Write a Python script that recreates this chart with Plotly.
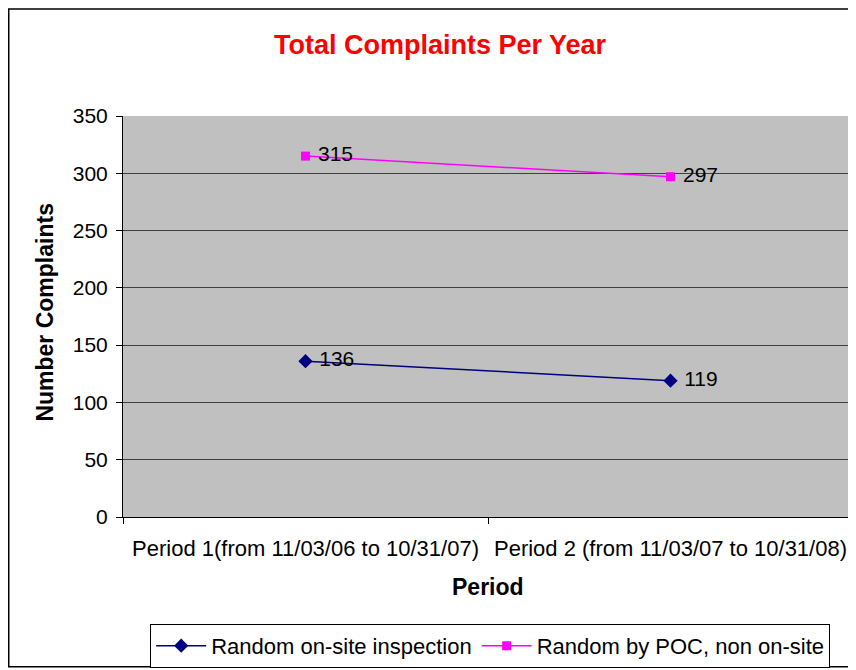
import plotly.graph_objects as go

categories = ["Period 1(from 11/03/06 to 10/31/07)", "Period 2 (from 11/03/07 to 10/31/08)"]
onsite = [136, 119]
poc = [315, 297]
y_ticks = [0, 50, 100, 150, 200, 250, 300, 350]

FONT = "Liberation Sans, Arial, sans-serif"
W, H = 848, 662
L, R, T, B = 115, 3, 108, 152
PH = H - T - B

fig = go.Figure()
fig.add_trace(go.Scatter(
    x=categories, y=onsite, name="Random on-site inspection",
    mode="lines+markers+text", text=[" " + str(v) for v in onsite],
    textposition="middle right", textfont=dict(size=21, color="black", family=FONT),
    line=dict(color="#000080", width=1.5),
    marker=dict(symbol="diamond", size=11, color="#000080"),
))
fig.add_trace(go.Scatter(
    x=categories, y=poc, name="Random by POC, non on-site",
    mode="lines+markers+text", text=[" " + str(v) for v in poc],
    textposition="middle right", textfont=dict(size=21, color="black", family=FONT),
    line=dict(color="#FF00FF", width=1.5),
    marker=dict(symbol="square", size=9, color="#FF00FF"),
))

fig.update_layout(
    width=W, height=H,
    margin=dict(l=L, r=R, t=T, b=B),
    paper_bgcolor="white",
    plot_bgcolor="#C0C0C0",
    font=dict(family=FONT, color="black"),
    title=dict(text="<b>Total Complaints Per Year</b>", x=432 / W, xanchor="center",
               y=1 - 37 / H, yanchor="middle", yref="container",
               font=dict(size=27, color="#FF0000", family=FONT)),
    showlegend=True,
    legend=dict(orientation="h", x=0.503, xanchor="center", y=-0.318, yanchor="middle",
                bordercolor="black", borderwidth=1, bgcolor="white",
                font=dict(size=22, family=FONT), itemwidth=50, tracegroupgap=0),
    xaxis=dict(type="category", range=[-0.5, 1.5], tickson="boundaries",
               ticks="outside", ticklen=6, tickcolor="black",
               showline=True, linecolor="black", linewidth=1, mirror=False,
               showgrid=False, tickfont=dict(size=22, family=FONT),
               ticklabelstandoff=12),
    yaxis=dict(range=[0, 350], tickvals=y_ticks, ticks="outside", ticklen=6,
               tickcolor="black", showline=True, linecolor="black", linewidth=1,
               showgrid=True, gridcolor="#404040", gridwidth=1,
               tickfont=dict(size=21, family=FONT), zeroline=False,
               ticklabelstandoff=4),
    annotations=[
        dict(text="<b>Number Complaints</b>", textangle=-90, x=-0.107, xref="paper",
             y=0.512, yref="paper", showarrow=False, font=dict(size=23, family=FONT),
             xanchor="center", yanchor="middle"),
        dict(text="<b>Period</b>", x=0.5, xref="paper", y=-70 / PH, yref="paper",
             showarrow=False, font=dict(size=23, family=FONT),
             xanchor="center", yanchor="middle"),
    ],
    shapes=[
        dict(type="rect", xref="paper", yref="paper",
             x0=(0.75 - L) / 730, x1=(W + 10 - L) / 730,
             y0=(-(B - 2)) / PH, y1=(PH + T - 0.75) / PH,
             line=dict(color="black", width=1.5), fillcolor="rgba(0,0,0,0)", layer="below"),
    ],
)

fig.write_html("out.html")
